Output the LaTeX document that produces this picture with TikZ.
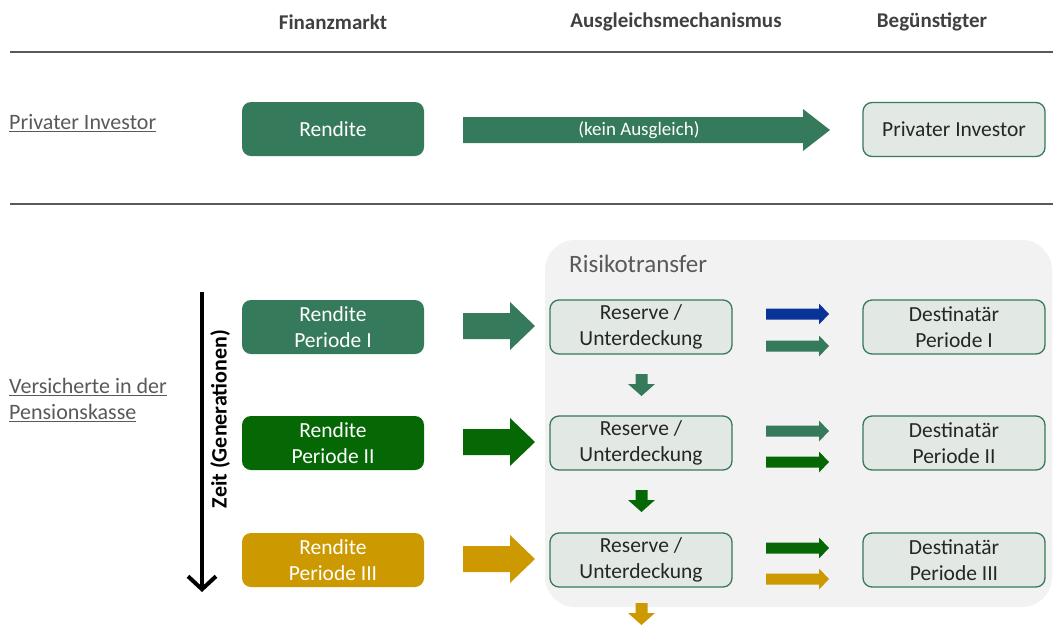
\documentclass[tikz,border=0pt]{standalone}
\usepackage{fontspec}
\setmainfont{Carlito}
\usetikzlibrary{arrows.meta}
\definecolor{gA}{HTML}{357A5A}
\definecolor{gB}{HTML}{056805}
\definecolor{goldc}{HTML}{CC9900}
\definecolor{blueA}{HTML}{0A3399}
\definecolor{boxfill}{HTML}{E2E9E4}
\definecolor{panel}{HTML}{F2F2F2}
\definecolor{txt}{HTML}{262626}
\definecolor{lbl}{HTML}{595959}
\definecolor{hdr}{HTML}{404040}
% right block arrow: color, x1, x2, yc, shaft half, head half, head length
\newcommand\rarrow[7]{\fill[#1] (#2,#4-#5) -- (#3-#7,#4-#5) -- (#3-#7,#4-#6) -- (#3,#4) -- (#3-#7,#4+#6) -- (#3-#7,#4+#5) -- (#2,#4+#5) -- cycle;}
% down block arrow: color, xc, y1, y2, shaft half, head half, head length
\newcommand\darrow[7]{\fill[#1] (#2-#5,#3) -- (#2-#5,#4-#7) -- (#2-#6,#4-#7) -- (#2,#4) -- (#2+#6,#4-#7) -- (#2+#5,#4-#7) -- (#2+#5,#3) -- cycle;}
\tikzset{
  base/.style={rounded corners=9pt, minimum width=182pt, minimum height=54pt, inner sep=0pt,
    font=\fontsize{21.5}{26}\selectfont, align=center},
  fbox/.style={base, fill=#1, text=white},
  lbox/.style={base, fill=boxfill, draw=gA, line width=1.3pt, text=txt},
  hdrtext/.style={font=\fontsize{21}{24}\selectfont\bfseries, text=hdr},
  sidelabel/.style={font=\fontsize{22}{26}\selectfont, text=lbl, anchor=west, align=left, inner sep=0pt},
  sep/.style={draw=lbl, line width=1.5pt}
}
\begin{document}
\begin{tikzpicture}[x=1pt,y=-1pt]
\useasboundingbox (0,0) rectangle (1053,633);
% headers
\node[hdrtext] (h1) at (333,22) {Finanzmarkt};
\node[hdrtext] (h2) at (676,22) {Ausgleichsmechanismus};
\node[hdrtext] (h3) at (932,22) {Begünstigter};
\draw[sep] (10,52) -- (1053,52);
\draw[sep] (10,204) -- (1053,204);
% top row
\node[sidelabel] (lab1) at (9,123) {\underline{Privater Investor}};
\node[fbox=gA] (r0) at (333,129) {Rendite};
\rarrow{gA}{463}{830}{130}{13}{21}{27}
\node[text=white, font=\fontsize{19}{22}\selectfont] (ka) at (639,130) {(kein Ausgleich)};
\node[lbox] (p0) at (954,129.5) {Privater Investor};
% panel
\fill[panel, rounded corners=30pt] (545,240) rectangle (1052,607);
\node[anchor=west, text=lbl, font=\fontsize{25}{28}\selectfont, inner sep=0pt] (rt) at (569,264) {Risikotransfer};
% left label
\node[sidelabel] (lab2) at (9,400) {\underline{Versicherte in der}\\\underline{Pensionskasse}};
% time arrow
\coordinate (t1) at (202,292);
\coordinate (t2) at (202,592);
\draw[line width=4pt, -{Straight Barb[length=13pt,width=28pt,line width=4pt]}] (t1) -- (t2);
\node[rotate=90, font=\fontsize{22}{26}\selectfont\bfseries] (zeit) at (220,419) {Zeit (Generationen)};
% rows
\node[fbox=gA] (r1) at (333,327) {Rendite\\Periode I};
\node[fbox=gB] (r2) at (333,443) {Rendite\\Periode II};
\node[fbox=goldc] (r3) at (333,560) {Rendite\\Periode III};
\rarrow{gA}{463}{535}{326}{13}{24}{25}
\rarrow{gB}{463}{535}{442}{13}{24}{25}
\rarrow{goldc}{463}{535}{559}{13}{24}{25}
\node[lbox] (u1) at (641,327) {Reserve /\\Unterdeckung};
\node[lbox] (u2) at (641,443) {Reserve /\\Unterdeckung};
\node[lbox] (u3) at (641,560) {Reserve /\\Unterdeckung};
\node[lbox] (d1) at (954,327) {Destinatär\\Periode I};
\node[lbox] (d2) at (954,443) {Destinatär\\Periode II};
\node[lbox] (d3) at (954,560) {Destinatär\\Periode III};
\rarrow{blueA}{766}{829}{314}{5.5}{10.5}{10}
\rarrow{gA}{766}{829}{346}{5.5}{10.5}{10}
\rarrow{gA}{766}{829}{431}{5.5}{10.5}{10}
\rarrow{gB}{766}{829}{462}{5.5}{10.5}{10}
\rarrow{gB}{766}{829}{548}{5.5}{10.5}{10}
\rarrow{goldc}{766}{829}{579}{5.5}{10.5}{10}
\darrow{gA}{641.5}{374}{396}{6}{13.5}{12}
\darrow{gB}{641.5}{490}{512}{6}{13.5}{12}
\darrow{goldc}{641.5}{603}{625}{6}{13.5}{12}
\end{tikzpicture}
\end{document}
